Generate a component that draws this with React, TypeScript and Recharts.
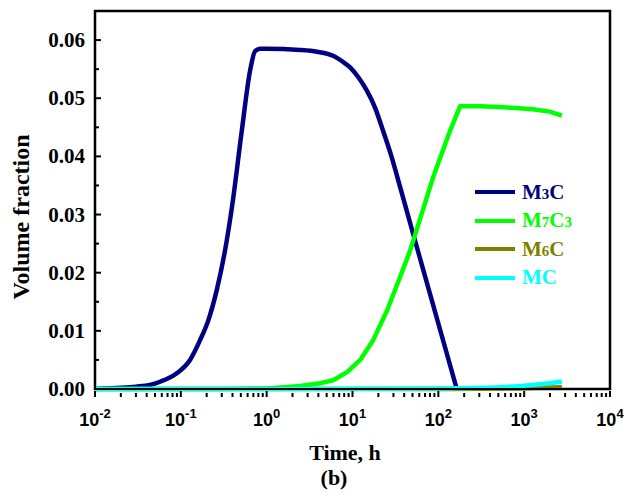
import React from 'react'
import { LineChart, Line, XAxis, YAxis, ReferenceArea } from 'recharts'

// hours (log scale) vs. volume fraction for each carbide
const m3cTime = [0.01, 0.02, 0.03, 0.0437, 0.0573, 0.0896, 0.128, 0.1675, 0.209, 0.262, 0.327, 0.397, 0.513, 0.64, 0.733, 0.838, 1, 2.45, 3.86, 5.94, 7.5, 9.38, 11.7, 14.7, 18.3, 22.7, 28.7, 35.9, 50.8, 164]
const m3cFrac = [0.0, 0.0002, 0.0004, 0.0007, 0.00125, 0.0027, 0.005, 0.0084, 0.0118, 0.017, 0.0238, 0.0316, 0.0444, 0.0547, 0.0581, 0.0585, 0.0585, 0.0583, 0.058, 0.0573, 0.0564, 0.0553, 0.0536, 0.0513, 0.0484, 0.0444, 0.0398, 0.0347, 0.0267, 0.0]

const m7c3Time = [0.01, 0.3, 1.01, 2.45, 4.19, 5.94, 8.65, 12.3, 17.4, 25.3, 35.9, 46.9, 86.9, 137, 179, 300, 525, 1259, 1980, 2750]
const m7c3Frac = [0.0, 0.0, 0.0001, 0.0005, 0.001, 0.0015, 0.0029, 0.005, 0.0084, 0.0135, 0.0193, 0.0238, 0.0364, 0.0444, 0.0486, 0.0486, 0.0485, 0.0481, 0.0477, 0.047]

const m6cTime = [0.01, 1, 100, 800, 1500, 2750]
const m6cFrac = [0.0, 0.0, 0.0, 0.0001, 0.0002, 0.0003]

const mcTime = [0.01, 1, 100, 525, 1259, 2000, 2750]
const mcFrac = [0.0, 0.0, 0.0001, 0.0003, 0.0007, 0.001, 0.0013]

const xMajor = [0.01, 0.1, 1, 10, 100, 1000, 10000]
const xExp = ['-2', '-1', '0', '1', '2', '3', '4']
const yTicks = [0, 0.01, 0.02, 0.03, 0.04, 0.05, 0.06]

const series = [
  { key: 'm3c', base: 'M', sub1: '3', tail: 'C', sub2: '', color: '#000080', curve: 'monotone', time: m3cTime, frac: m3cFrac },
  { key: 'm7c3', base: 'M', sub1: '7', tail: 'C', sub2: '3', color: '#00FF00', curve: 'linear', time: m7c3Time, frac: m7c3Frac },
  { key: 'm6c', base: 'M', sub1: '6', tail: 'C', sub2: '', color: '#808000', curve: 'monotone', time: m6cTime, frac: m6cFrac },
  { key: 'mc', base: 'MC', sub1: '', tail: '', sub2: '', color: '#00FFFF', curve: 'monotone', time: mcTime, frac: mcFrac },
]

const toPoints = (t: number[], v: number[]) => t.map((x, i) => ({ t: x, v: v[i] }))

// minor ticks 2..9 in every decade
const xMinor: number[] = []
for (let d = -2; d < 4; d++) {
  for (let k = 2; k < 10; k++) xMinor.push(k * Math.pow(10, d))
}
const xAll = [...xMajor, ...xMinor].sort((a, b) => a - b)

const yMinor = [0.005, 0.015, 0.025, 0.035, 0.045, 0.055]
const yAll = [...yTicks, ...yMinor].sort((a, b) => a - b)

const serif = '"Liberation Serif", "Times New Roman", serif'
const sans = '"Liberation Sans", Arial, sans-serif'

const XTick = (props: any) => {
  const { x, y, payload } = props
  const idx = xMajor.findIndex((m) => Math.abs(m - payload.value) / m < 1e-6)
  const major = idx >= 0
  return (
    <g>
      <line x1={x} x2={x} y1={y} y2={y - (major ? 6 : 4)} stroke="#000" strokeWidth={2} />
      {major && (
        <text x={x} y={y + 29} textAnchor="middle" fontFamily={sans} fontWeight="bold" fontSize={18} fill="#000">
          10
          <tspan dy={-8} fontSize={13}>{xExp[idx]}</tspan>
        </text>
      )}
    </g>
  )
}

const YTick = (props: any) => {
  const { x, y, payload } = props
  const major = yTicks.some((m) => Math.abs(m - payload.value) < 1e-9)
  const ax = x + 8
  return (
    <g>
      <line x1={ax} x2={ax + (major ? 6 : 4)} y1={y} y2={y} stroke="#000" strokeWidth={2} />
      {major && (
        <text x={ax - 10} y={y + 7} textAnchor="end" fontFamily={serif} fontWeight="bold" fontSize={21} fill="#000">
          {payload.value.toFixed(2)}
        </text>
      )}
    </g>
  )
}

const LegendBox = () => (
  <div
    style={{
      position: 'absolute',
      left: 475,
      top: 178,
      fontFamily: serif,
      fontWeight: 'bold',
      fontSize: 21,
    }}
  >
    {series.map((s) => (
      <div key={s.key} style={{ display: 'flex', alignItems: 'center', height: 28.5 }}>
        <div style={{ width: 40, height: 4, background: s.color, marginRight: 7 }} />
        <span style={{ color: s.color }}>
          {s.base}
          {s.sub1 && <span style={{ fontSize: 15 }}>{s.sub1}</span>}
          {s.tail}
          {s.sub2 && <span style={{ fontSize: 15 }}>{s.sub2}</span>}
        </span>
      </div>
    ))}
  </div>
)

export default function App() {
  return (
    <div style={{ position: 'absolute', left: 0, top: 0, width: 627, height: 495, background: '#fff' }}>
      <LineChart width={627} height={495} margin={{ top: 11, right: 17, bottom: 66, left: 35 }}>
        <XAxis
          dataKey="t"
          type="number"
          scale="log"
          domain={[0.01, 10000]}
          ticks={xAll}
          interval={0}
          allowDataOverflow
          height={40}
          tickLine={false}
          tick={<XTick />}
          axisLine={{ stroke: '#000', strokeWidth: 2 }}
        />
        <YAxis
          type="number"
          domain={[0, 0.065]}
          ticks={yAll}
          interval={0}
          width={60}
          tickLine={false}
          tick={<YTick />}
          axisLine={{ stroke: '#000', strokeWidth: 2 }}
        />
        <ReferenceArea
          x1={0.01}
          x2={10000}
          y1={0}
          y2={0.065}
          fill="none"
          stroke="#000"
          strokeWidth={2.5}
          ifOverflow="visible"
        />
        {series.map((s) => (
          <Line
            key={s.key}
            data={toPoints(s.time, s.frac)}
            dataKey="v"
            type={s.curve as any}
            stroke={s.color}
            strokeWidth={4.5}
            strokeLinejoin="round"
            dot={false}
            isAnimationActive={false}
          />
        ))}
      </LineChart>
      <LegendBox />
      <div
        style={{
          position: 'absolute',
          left: 21,
          top: 217,
          transform: 'translate(-50%, -50%) rotate(-90deg)',
          whiteSpace: 'nowrap',
          fontFamily: serif,
          fontWeight: 'bold',
          fontSize: 24,
        }}
      >
        Volume fraction
      </div>
      <div
        style={{
          position: 'absolute',
          left: 345,
          top: 453,
          transform: 'translate(-50%, -50%)',
          whiteSpace: 'nowrap',
          fontFamily: serif,
          fontWeight: 'bold',
          fontSize: 22,
        }}
      >
        Time, h
      </div>
      <div
        style={{
          position: 'absolute',
          left: 334,
          top: 478,
          transform: 'translate(-50%, -50%)',
          fontFamily: serif,
          fontWeight: 'bold',
          fontSize: 22,
        }}
      >
        (b)
      </div>
    </div>
  )
}
